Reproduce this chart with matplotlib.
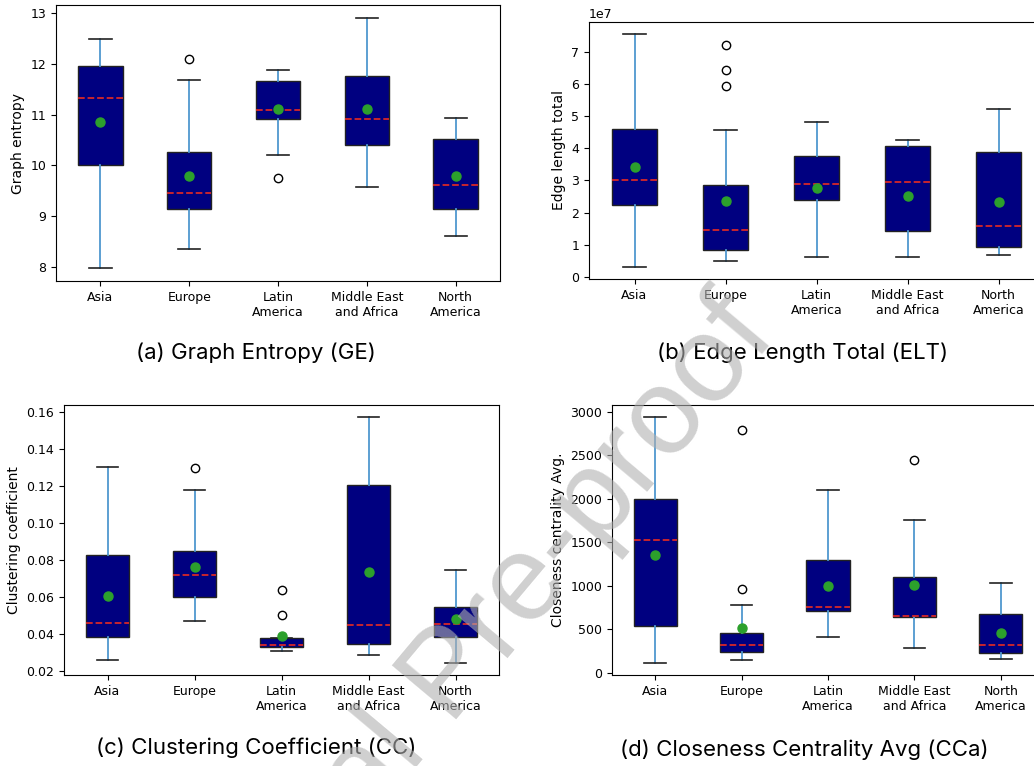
import numpy as np
import matplotlib
matplotlib.use("Agg")
from matplotlib import pyplot as plt

regions = ["Asia", "Europe", "Latin\nAmerica", "Middle East\nand Africa", "North\nAmerica"]

# (a) graph entropy
ge_whislo = [7.97, 8.36, 10.21, 9.58, 8.60]
ge_q1 = [10.01, 9.15, 10.92, 10.40, 9.14]
ge_med = [11.32, 9.46, 11.09, 10.91, 9.61]
ge_q3 = [11.95, 10.26, 11.66, 11.75, 10.51]
ge_whishi = [12.48, 11.68, 11.87, 12.91, 10.94]
ge_mean = [10.86, 9.80, 11.10, 11.11, 9.79]
ge_fliers = [[], [12.10], [9.75], [], []]

# (b) edge length total
elt_whislo = [0.29e7, 0.49e7, 0.62e7, 0.60e7, 0.66e7]
elt_q1 = [2.24e7, 0.83e7, 2.40e7, 1.43e7, 0.91e7]
elt_med = [3.00e7, 1.46e7, 2.89e7, 2.96e7, 1.57e7]
elt_q3 = [4.62e7, 2.85e7, 3.75e7, 4.08e7, 3.89e7]
elt_whishi = [7.58e7, 4.57e7, 4.83e7, 4.26e7, 5.24e7]
elt_mean = [3.43e7, 2.36e7, 2.76e7, 2.53e7, 2.33e7]
elt_fliers = [[], [7.24e7, 6.45e7, 5.94e7], [], [], []]

# (c) clustering coefficient
cc_whislo = [0.0258, 0.0471, 0.0306, 0.0285, 0.0243]
cc_q1 = [0.0380, 0.0600, 0.0326, 0.0346, 0.0382]
cc_med = [0.0461, 0.0716, 0.0337, 0.0445, 0.0452]
cc_q3 = [0.0826, 0.0851, 0.0375, 0.1205, 0.0546]
cc_whishi = [0.1304, 0.1181, 0.0375, 0.1574, 0.0748]
cc_mean = [0.0604, 0.0764, 0.0389, 0.0737, 0.0480]
cc_fliers = [[], [0.1297], [0.0640, 0.0503], [], []]

# (d) closeness centrality avg
cca_whislo = [115, 141, 412, 279, 153]
cca_q1 = [542, 237, 714, 637, 229]
cca_med = [1527, 321, 760, 656, 317]
cca_q3 = [1992, 462, 1298, 1103, 672]
cca_whishi = [2935, 782, 2099, 1756, 1027]
cca_mean = [1355, 519, 992, 1004, 458]
cca_fliers = [[], [2790, 962], [], [2447], []]

ylabels = ["Graph entropy", "Edge length total", "Clustering coefficient",
           "Closeness centrality Avg."]
captions = ["(a) Graph Entropy (GE)", "(b) Edge Length Total (ELT)",
            "(c) Clustering Coefficient (CC)", "(d) Closeness Centrality Avg (CCa)"]


def make_stats(whislo, q1, med, q3, whishi, mean, fliers):
    '''build bxp stats dicts for one metric'''
    out = []
    for i in range(len(med)):
        out.append(dict(whislo=whislo[i], q1=q1[i], med=med[i], q3=q3[i],
                        whishi=whishi[i], mean=mean[i], fliers=fliers[i]))
    return out


stats = [
    make_stats(ge_whislo, ge_q1, ge_med, ge_q3, ge_whishi, ge_mean, ge_fliers),
    make_stats(elt_whislo, elt_q1, elt_med, elt_q3, elt_whishi, elt_mean, elt_fliers),
    make_stats(cc_whislo, cc_q1, cc_med, cc_q3, cc_whishi, cc_mean, cc_fliers),
    make_stats(cca_whislo, cca_q1, cca_med, cca_q3, cca_whishi, cca_mean, cca_fliers),
]

W, H = 1034, 766
fig = plt.figure(figsize=(W / 100, H / 100), dpi=100)

# axes boxes in pixels: left, top, right, bottom
boxes = [(56, 5, 500, 281), (589, 22, 1044, 279),
         (64, 405, 499, 675), (612, 405, 1044, 675)]
cap_pos = [(256, 353), (803, 353), (256, 748), (804, 750)]

for k in range(4):
    l, t, r, b = boxes[k]
    ax = fig.add_axes([l / W, 1 - b / H, (r - l) / W, (b - t) / H])
    ax.bxp(stats[k], showmeans=True, patch_artist=True, widths=0.5,
           boxprops=dict(facecolor="#000080", edgecolor="#222222", linewidth=1),
           medianprops=dict(color="#d62728", linestyle="--", linewidth=1.3),
           meanprops=dict(marker="o", markerfacecolor="#2ca02c",
                          markeredgecolor="#2ca02c", markersize=6.5),
           whiskerprops=dict(color="#4f97cf", linewidth=1.3),
           capprops=dict(color="#222222", linewidth=1.2),
           flierprops=dict(marker="o", markerfacecolor="none",
                           markeredgecolor="black", markersize=6))
    ax.set_xticks(range(1, 6))
    ax.set_xticklabels(regions, fontsize=9)
    ax.tick_params(axis="y", labelsize=9)
    ax.set_ylabel(ylabels[k], fontsize=10)
    ax.yaxis.get_offset_text().set_fontsize(9)
    fig.text(cap_pos[k][0] / W, 1 - cap_pos[k][1] / H, captions[k],
             family="Inter", fontsize=16, ha="center", va="center")

# watermark
fig.text(450 / W, 1 - 678 / H, "Journal Pre-proof", family="Liberation Sans",
         fontsize=88, color="#b0b0b0", alpha=0.6, rotation=50,
         ha="center", va="center", rotation_mode="anchor", zorder=10)

fig.savefig("out.png", dpi=100)
